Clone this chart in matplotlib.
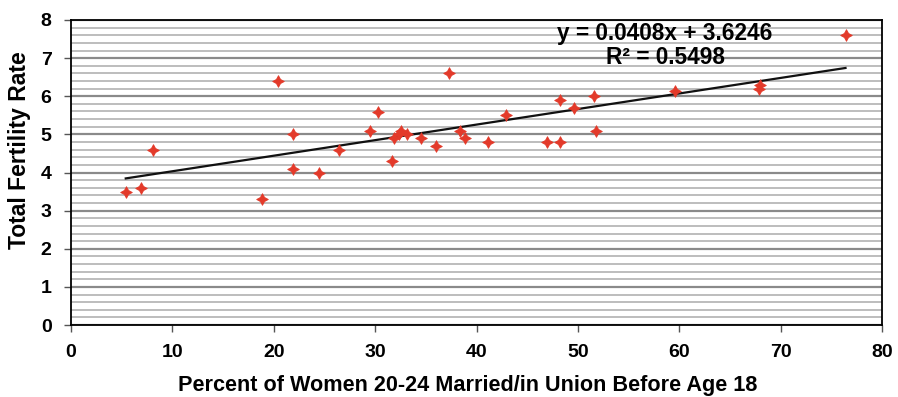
import numpy as np
import matplotlib
matplotlib.use("Agg")
import matplotlib.pyplot as plt
from matplotlib.ticker import MultipleLocator

# Data
pct_married_before_18 = [5.4, 6.9, 8.1, 18.8, 20.4, 21.9, 21.9, 24.5, 26.4, 29.5,
                         30.3, 31.7, 31.9, 32.4, 32.6, 33.1, 34.5, 36.0, 37.3, 38.4,
                         38.9, 41.1, 42.9, 47.0, 48.2, 48.2, 49.6, 51.6, 51.8, 59.6,
                         67.9, 68.0, 76.4]
total_fertility_rate = [3.5, 3.6, 4.6, 3.3, 6.4, 5.0, 4.1, 4.0, 4.6, 5.1,
                        5.6, 4.3, 4.9, 5.0, 5.1, 5.0, 4.9, 4.7, 6.6, 5.1,
                        4.9, 4.8, 5.5, 4.8, 4.8, 5.9, 5.7, 6.0, 5.1, 6.15,
                        6.2, 6.3, 7.6]
trend_slope = 0.0408
trend_intercept = 3.6246
r_squared = 0.5498
x_ticks = [0, 10, 20, 30, 40, 50, 60, 70, 80]
y_ticks = [0, 1, 2, 3, 4, 5, 6, 7, 8]

plt.rcParams['font.family'] = ['Liberation Sans', 'DejaVu Sans']

fig = plt.figure(figsize=(8.98, 3.97), dpi=100)
ax = fig.add_axes([71/898, 72/397, (882-71)/898, (325-20)/397])

ax.set_xlim(0, 80)
ax.set_ylim(0, 8)
ax.set_xticks(x_ticks)
ax.set_yticks(y_ticks)
ax.yaxis.set_minor_locator(MultipleLocator(0.2))
ax.tick_params(axis='y', which='minor', length=0)
ax.tick_params(axis='both', which='major', length=5, width=1, color='#555555',
               labelsize=14)
ax.tick_params(axis='x', which='major', pad=9)
ax.tick_params(axis='y', which='major', pad=9)
for lab in ax.get_xticklabels() + ax.get_yticklabels():
    lab.set_fontweight('bold')

ax.grid(True, axis='y', which='minor', color='#bdbdbd', linewidth=1.4)
ax.grid(True, axis='y', which='major', color='#8a8a8a', linewidth=1.6)
ax.set_axisbelow(True)

for s in ax.spines.values():
    s.set_color('black')
    s.set_linewidth(1.3)

xs = np.array(pct_married_before_18)
ax.scatter(xs, total_fertility_rate, marker=(4, 1, 0), s=70, color='#e33a2a',
           linewidths=0.6, edgecolors='#e33a2a', zorder=3)

x_line = np.array([xs.min(), xs.max()])
ax.plot(x_line, trend_slope * x_line + trend_intercept, color='#111111', lw=1.6, zorder=2)

ax.text(0.732, 0.995, f"y = {trend_slope}x + {trend_intercept}", transform=ax.transAxes,
        ha='center', va='top', fontsize=16.3, fontweight='bold')
ax.text(0.733, 0.915, f"R\u00b2 = {r_squared}", transform=ax.transAxes,
        ha='center', va='top', fontsize=16.3, fontweight='bold')

ax.set_xlabel("Percent of Women 20-24 Married/in Union Before Age 18",
              fontsize=15.6, fontweight='bold')
ax.xaxis.set_label_coords((468 - 71) / 811, (325 - 375) / 305)
ax.set_ylabel("Total Fertility Rate", fontsize=16.5, fontweight='bold')
ax.yaxis.set_label_coords((31 - 71) / 811, (325 - 150) / 305)

fig.savefig("out.png", dpi=100)
